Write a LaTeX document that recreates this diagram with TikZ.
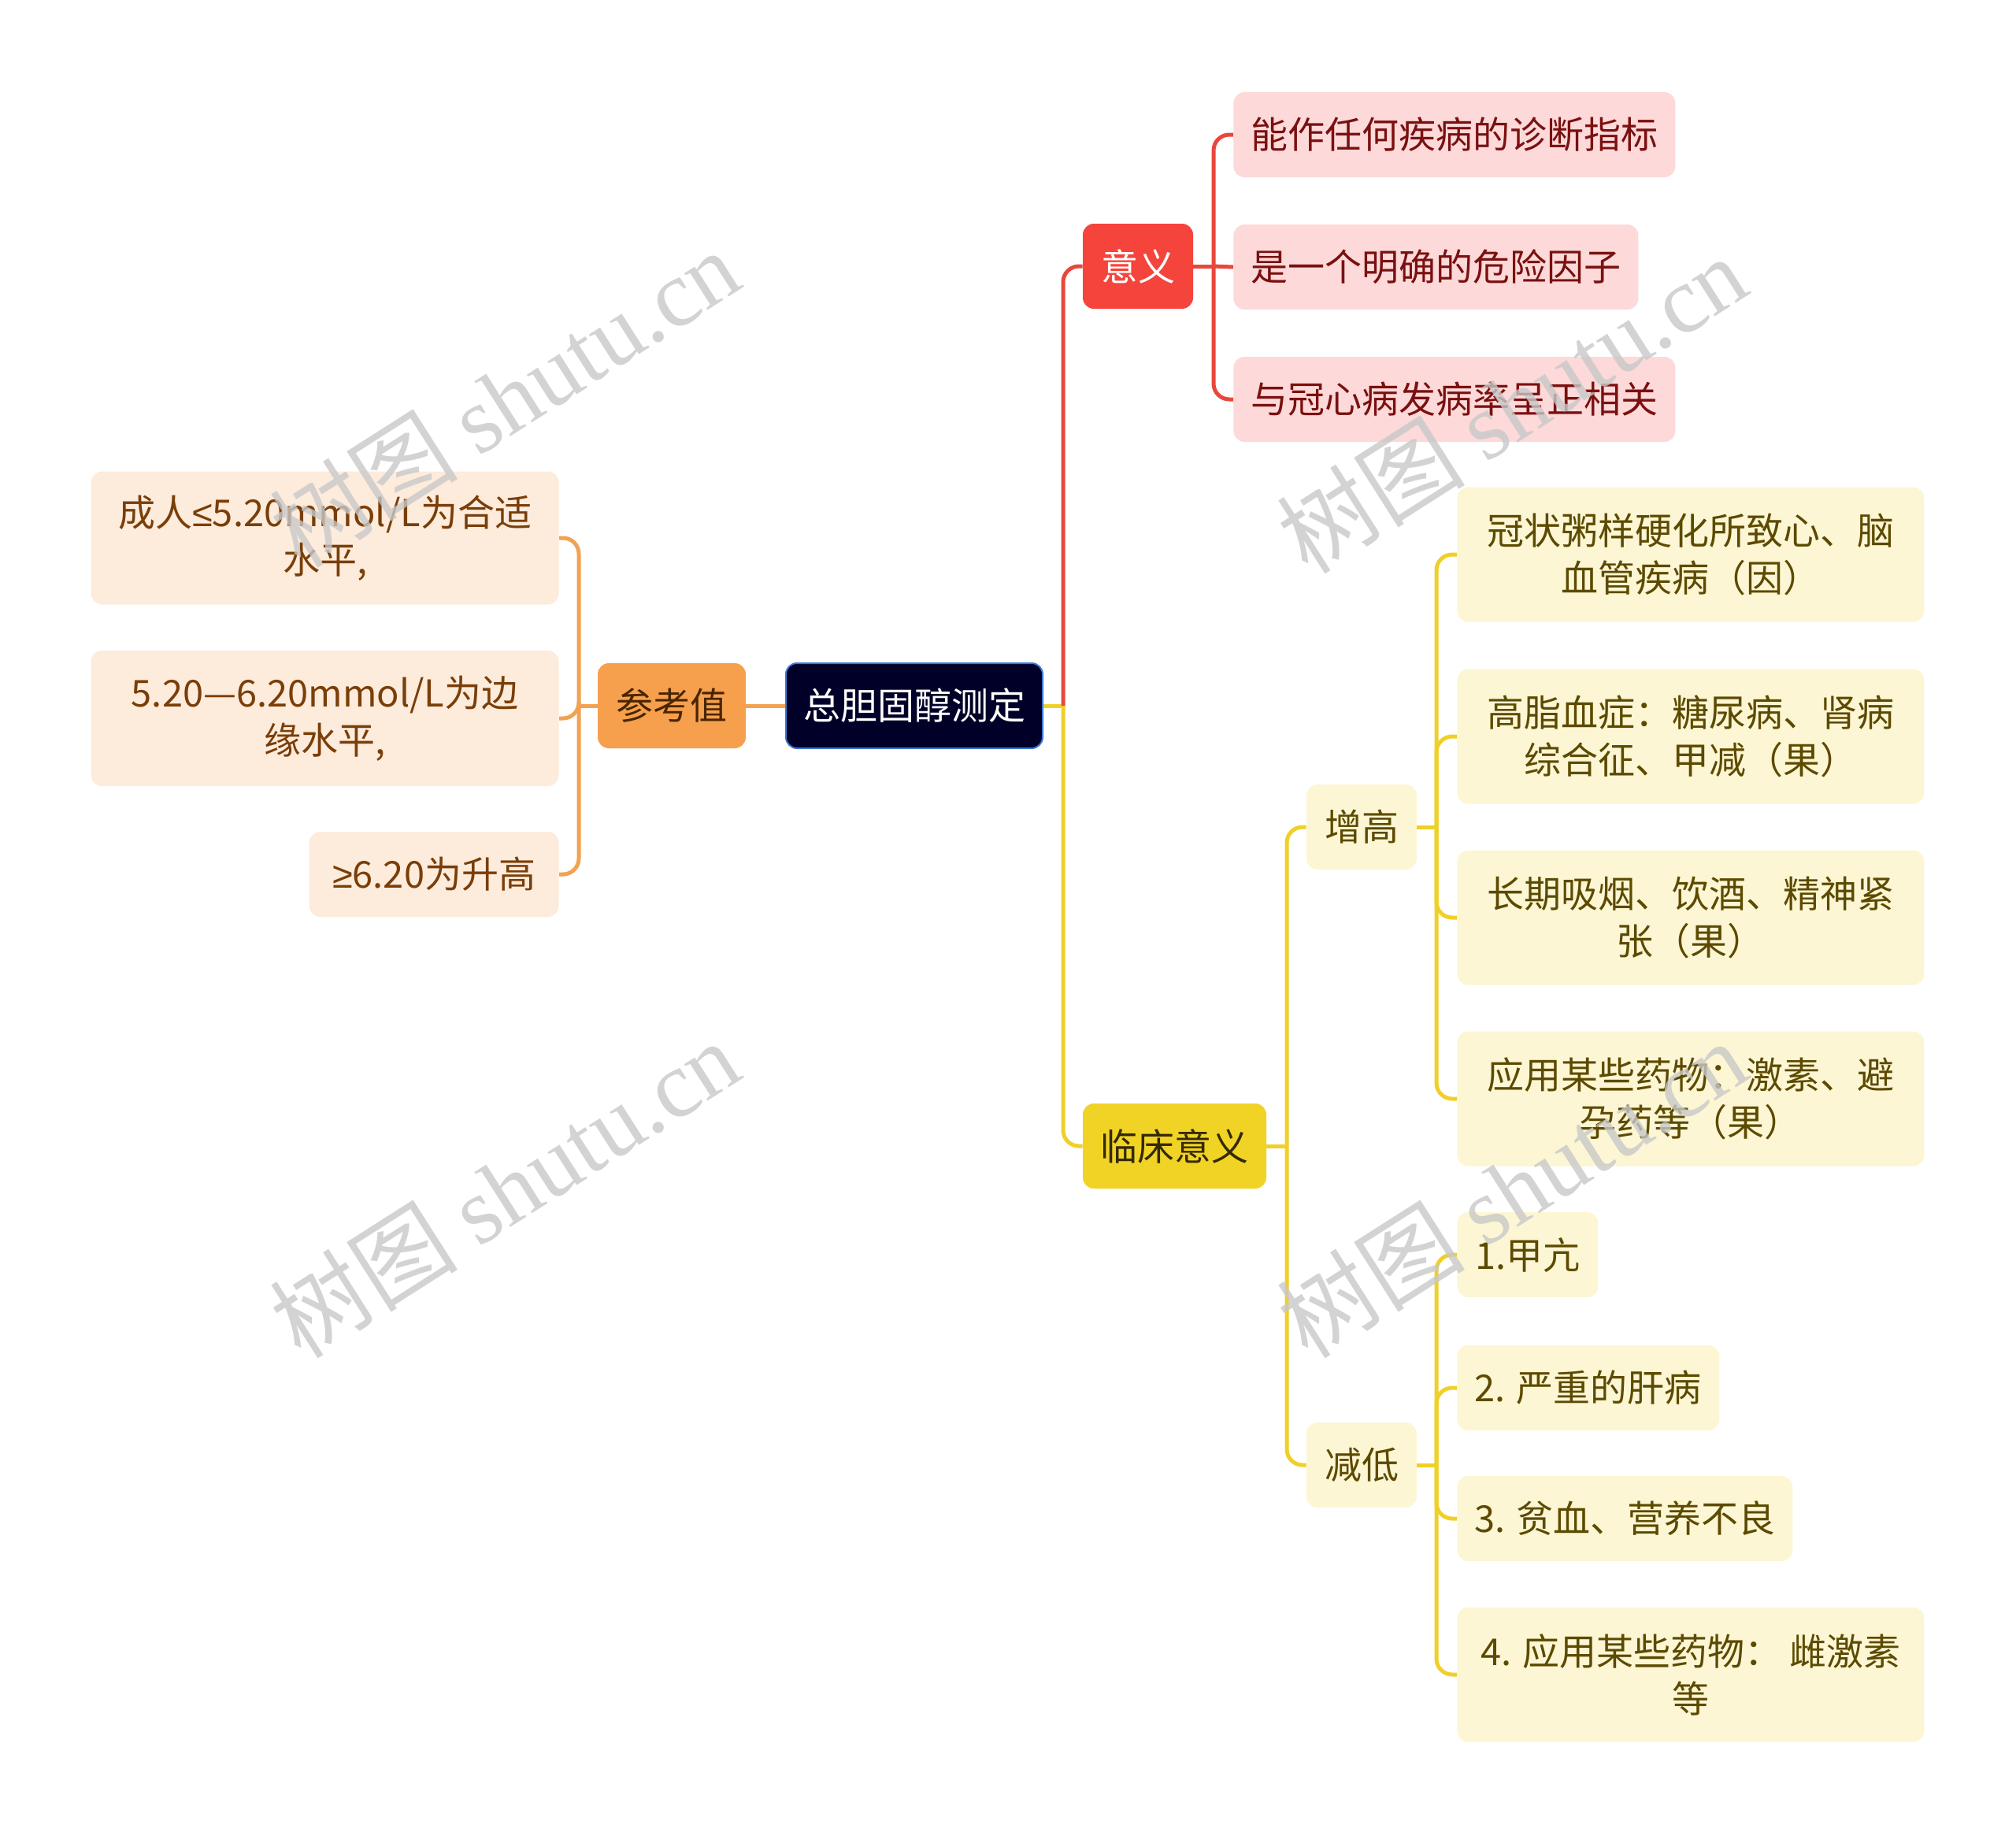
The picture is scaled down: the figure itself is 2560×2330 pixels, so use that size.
\documentclass[tikz,border=0pt]{standalone}
\usepackage{fontspec}
\setmainfont{Noto Sans CJK SC}
\newfontfamily\wmlatin{Liberation Serif}
\newfontfamily\wmcjk{Noto Sans CJK SC}
\newfontfamily\relfont{Liberation Sans}
\definecolor{rootfill}{RGB}{0,0,40}
\definecolor{rootborder}{RGB}{60,120,215}
\definecolor{redfill}{RGB}{245,68,60}
\definecolor{pinkfill}{RGB}{253,217,217}
\definecolor{pinktext}{RGB}{122,16,16}
\definecolor{yelfill}{RGB}{241,211,38}
\definecolor{yeltext}{RGB}{51,42,0}
\definecolor{lyelfill}{RGB}{252,246,212}
\definecolor{lyeltext}{RGB}{92,74,0}
\definecolor{orafill}{RGB}{246,160,78}
\definecolor{oratext}{RGB}{74,37,0}
\definecolor{loraffill}{RGB}{253,235,220}
\definecolor{loratext}{RGB}{122,62,8}
\definecolor{lnred}{RGB}{232,72,60}
\definecolor{lnyel}{RGB}{240,208,40}
\definecolor{lnora}{RGB}{242,162,80}
\definecolor{wmgray}{RGB}{200,200,200}
\newcommand{\boxfont}{\fontsize{23.5pt}{30pt}\selectfont}
\newcommand{\wmtext}{\fontsize{60pt}{60pt}\selectfont{\wmcjk 树图} {\wmlatin shutu.cn}}
\begin{document}
\begin{tikzpicture}[x=0.5pt,y=-0.5pt,
  box/.style={rounded corners=7pt, inner sep=0pt, align=center, minimum height=54pt, font=\boxfont},
  tall/.style={minimum height=85.5pt},
  rootbox/.style={box, fill=rootfill, draw=rootborder, line width=1pt, text=white},
  redbox/.style={box, fill=redfill, text=white},
  pinkbox/.style={box, fill=pinkfill, text=pinktext},
  yelbox/.style={box, fill=yelfill, text=yeltext},
  lyelbox/.style={box, fill=lyelfill, text=lyeltext},
  orabox/.style={box, fill=orafill, text=oratext},
  lorabox/.style={box, fill=loraffill, text=loratext},
  conn/.style={line width=2.5pt, rounded corners=10pt},
  wm/.style={text=wmgray, opacity=0.8, rotate=32.5, anchor=base west, inner sep=0pt}
]
\useasboundingbox (0,0) rectangle (2560,2330);

% root and first level
\node[rootbox, minimum width=163pt] (root) at (1161,896) {总胆固醇测定};
\node[redbox, minimum width=70pt] (yy) at (1445,338) {意义};
\node[yelbox, minimum width=116.5pt] (lc) at (1491.5,1455) {临床意义};
\node[orabox, minimum width=94pt] (ckz) at (853,896) {参考值};

% red children
\node[pinkbox, anchor=west, minimum width=280.5pt] (r1) at (1566,171) {能作任何疾病的诊断指标};
\node[pinkbox, anchor=west, minimum width=257pt] (r2) at (1566,339) {是一个明确的危险因子};
\node[pinkbox, anchor=west, minimum width=280.5pt] (r3) at (1566,507) {与冠心病发病率呈正相关};

% yellow second level
\node[lyelbox, minimum width=70pt] (zg) at (1729,1050) {增高};
\node[lyelbox, minimum width=70pt] (jd) at (1729,1860) {减低};

% 增高 children
\node[lyelbox, tall, anchor=west, minimum width=296.5pt] (z1) at (1850,704) {冠状粥样硬化所致心、脑\\血管疾病（因）};
\node[lyelbox, tall, anchor=west, minimum width=296.5pt] (z2) at (1850,935) {高脂血症：糖尿病、肾病\\综合征、甲减（果）};
\node[lyelbox, tall, anchor=west, minimum width=296.5pt] (z3) at (1850,1165) {长期吸烟、饮酒、精神紧\\张（果）};
\node[lyelbox, tall, anchor=west, minimum width=296.5pt] (z4) at (1850,1395) {应用某些药物：激素、避\\孕药等（果）};

% 减低 children
\node[lyelbox, anchor=west, minimum width=89.5pt] (d1) at (1850,1593) {1.甲亢};
\node[lyelbox, anchor=west, minimum width=166.5pt] (d2) at (1850,1762) {2. 严重的肝病};
\node[lyelbox, anchor=west, minimum width=213pt] (d3) at (1850,1928) {3. 贫血、营养不良};
\node[lyelbox, tall, anchor=west, minimum width=296.5pt] (d4) at (1850,2126) {4. 应用某些药物： 雌激素\\等};

% orange children
\node[lorabox, anchor=east, minimum width=297pt, minimum height=84.5pt] (o1) at (710,683) {成人{\relfont ≤}5.20mmol/L为合适\\水平,};
\node[lorabox, anchor=east, minimum width=297pt, minimum height=86pt] (o2) at (710,912) {5.20—6.20mmol/L为边\\缘水平,};
\node[lorabox, anchor=east, minimum width=158.5pt] (o3) at (710,1110) {{\relfont ≥}6.20为升高};

% junctions
\coordinate (jR) at (1350,896);
\coordinate (jY) at (1541,338);
\coordinate (jC) at (1634,1455);
\coordinate (jZ) at (1824,1050);
\coordinate (jD) at (1824,1860);
\coordinate (jO) at (735,896);

% connectors
\draw[conn, lnyel] (root.east) -- (jR);
\draw[conn, lnyel] (jR) |- (lc.west);
\draw[conn, lnred] (jR) |- (yy.west);

\draw[conn, lnred] (yy.east) -- (jY);
\draw[conn, lnred] (jY) |- (r1.west);
\draw[conn, lnred] (jY) -- (r2.west);
\draw[conn, lnred] (jY) |- (r3.west);

\draw[conn, lnyel] (lc.east) -- (jC);
\draw[conn, lnyel] (jC) |- (zg.west);
\draw[conn, lnyel] (jC) |- (jd.west);

\draw[conn, lnyel] (zg.east) -- (jZ);
\draw[conn, lnyel] (jZ) |- (z1.west);
\draw[conn, lnyel] (jZ) |- (z2.west);
\draw[conn, lnyel] (jZ) |- (z3.west);
\draw[conn, lnyel] (jZ) |- (z4.west);

\draw[conn, lnyel] (jd.east) -- (jD);
\draw[conn, lnyel] (jD) |- (d1.west);
\draw[conn, lnyel] (jD) |- (d2.west);
\draw[conn, lnyel] (jD) |- (d3.west);
\draw[conn, lnyel] (jD) |- (d4.west);

\draw[conn, lnora] (root.west) -- (ckz.east);
\draw[conn, lnora] (ckz.west) -- (jO);
\draw[conn, lnora] (jO) |- (o1.east);
\draw[conn, lnora] (jO) |- (o2.east);
\draw[conn, lnora] (jO) |- (o3.east);

% watermarks
\node[wm] (wm1) at (382,724) {\wmtext};
\node[wm] (wm2) at (1661,732) {\wmtext};
\node[wm] (wm3) at (382,1728) {\wmtext};
\node[wm] (wm4) at (1661,1728) {\wmtext};
\end{tikzpicture}
\end{document}
